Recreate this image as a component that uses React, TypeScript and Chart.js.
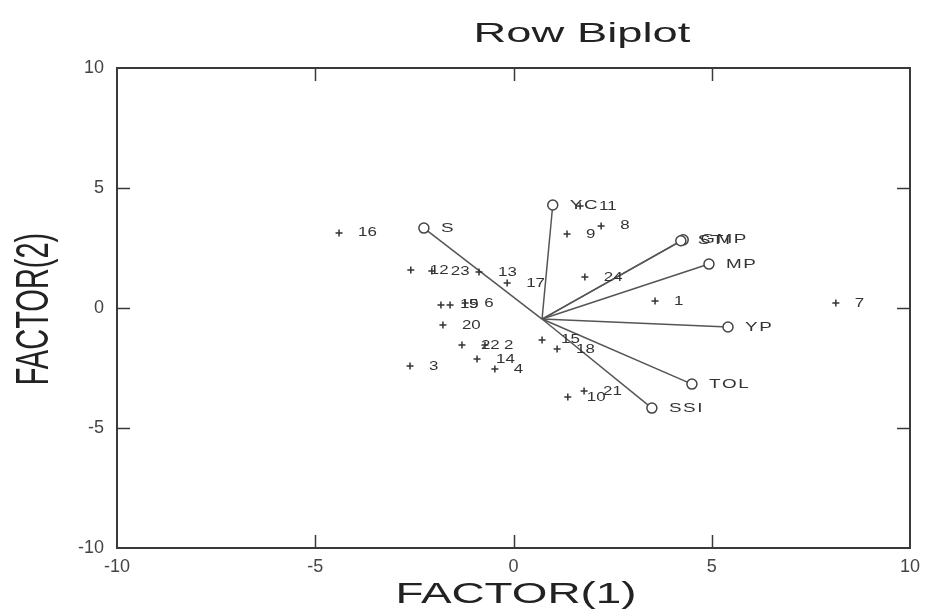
import React, { useEffect, useRef } from "react";
import { Chart, registerables } from "chart.js";

Chart.register(...registerables);

// ---- Data ----
const TICK_VALUES = [-10, -5, 0, 5, 10];
const INNER_TICKS = [-5, 0, 5];

const POINT_LABELS = ["1", "2", "3", "4", "5", "6", "7", "8", "9", "10", "11", "12", "13", "14", "15", "16", "17", "18", "19", "20", "21", "22", "23", "24"];
const POINT_X = [3.57, -0.72, -2.61, -0.47, -1.60, -1.22, 8.13, 2.21, 1.35, 1.37, 1.68, -2.59, -0.87, -0.92, 0.72, -4.40, -0.16, 1.10, -1.83, -1.78, 1.78, -1.30, -2.06, 1.80];
const POINT_Y = [0.29, -1.54, -2.42, -2.54, 0.13, 0.21, 0.21, 3.42, 3.08, -3.71, 4.25, 1.58, 1.50, -2.13, -1.33, 3.13, 1.04, -1.71, 0.13, -0.71, -3.46, -1.54, 1.54, 1.29];

const ORIGIN_X = 0.72;
const ORIGIN_Y = -0.46;
const VECTOR_LABELS = ["YC", "S", "STI", "GMP", "MP", "YP", "TOL", "SSI"];
const VECTOR_X = [0.99, -2.26, 4.22, 4.28, 4.93, 5.41, 4.50, 3.49];
const VECTOR_Y = [4.29, 3.33, 2.80, 2.84, 1.83, -0.79, -3.17, -4.17];

const TITLE = "Row Biplot";
const X_TITLE = "FACTOR(1)";
const Y_TITLE = "FACTOR(2)";

const FONT = "'Liberation Sans', Arial, sans-serif";

const decorPlugin = {
  id: "decor",
  beforeDatasetsDraw(chart: any) {
    const { ctx, chartArea: a, scales } = chart;
    const xs = scales.x;
    const ys = scales.y;
    ctx.save();
    ctx.strokeStyle = "#3a3a3a";
    ctx.lineWidth = 2;
    ctx.strokeRect(a.left, a.top, a.right - a.left, a.bottom - a.top);
    ctx.lineWidth = 1.5;
    const tl = 13;
    ctx.beginPath();
    for (const v of INNER_TICKS) {
      const px = Math.round(xs.getPixelForValue(v)) + 0.5;
      ctx.moveTo(px, a.top);
      ctx.lineTo(px, a.top + tl);
      ctx.moveTo(px, a.bottom);
      ctx.lineTo(px, a.bottom - tl);
      const py = Math.round(ys.getPixelForValue(v)) + 0.5;
      ctx.moveTo(a.left, py);
      ctx.lineTo(a.left + tl, py);
      ctx.moveTo(a.right, py);
      ctx.lineTo(a.right - tl, py);
    }
    ctx.stroke();
    ctx.restore();
  },
  afterDatasetsDraw(chart: any) {
    const { ctx, scales } = chart;
    const xs = scales.x;
    const ys = scales.y;
    ctx.save();
    ctx.fillStyle = "#333";
    ctx.textBaseline = "middle";
    ctx.textAlign = "left";
    // point labels
    ctx.font = `13px ${FONT}`;
    POINT_LABELS.forEach((lab, i) => {
      const px = xs.getPixelForValue(POINT_X[i]);
      const py = ys.getPixelForValue(POINT_Y[i]);
      ctx.save();
      ctx.translate(px + 19, py);
      ctx.scale(1.3, 1);
      ctx.fillText(lab, 0, 0);
      ctx.restore();
    });
    // vector labels
    ctx.font = `13px ${FONT}`;
    VECTOR_LABELS.forEach((lab, i) => {
      const px = xs.getPixelForValue(VECTOR_X[i]);
      const py = ys.getPixelForValue(VECTOR_Y[i]);
      ctx.save();
      ctx.translate(px + 17, py);
      ctx.scale(1.45, 1);
      ctx.fillText(lab.split("").join("\u200A"), 0, 0);
      ctx.restore();
    });
    ctx.restore();
  },
  afterDraw(chart: any) {
    const { ctx } = chart;
    ctx.save();
    ctx.fillStyle = "#222";
    ctx.textAlign = "center";
    ctx.textBaseline = "alphabetic";
    ctx.font = `28px ${FONT}`;
    ctx.save();
    ctx.translate(582, 42);
    ctx.scale(1.62, 1);
    ctx.fillText(TITLE, 0, 0);
    ctx.restore();

    ctx.font = `29px ${FONT}`;
    ctx.save();
    ctx.translate(516, 603);
    ctx.scale(1.58, 1);
    ctx.fillText(X_TITLE, 0, 0);
    ctx.restore();

    ctx.save();
    ctx.translate(48, 309);
    ctx.scale(1.6, 1);
    ctx.rotate(-Math.PI / 2);
    ctx.fillText(Y_TITLE, 0, 0);
    ctx.restore();
    ctx.restore();
  },
};

export default function App() {
  const ref = useRef<HTMLCanvasElement | null>(null);
  useEffect(() => {
    if (!ref.current) return;
    const vectorSets = VECTOR_LABELS.map((lab, i) => ({
      label: lab,
      data: [
        { x: ORIGIN_X, y: ORIGIN_Y },
        { x: VECTOR_X[i], y: VECTOR_Y[i] },
      ],
      showLine: true,
      borderColor: "#555",
      borderWidth: 1.5,
      pointRadius: [0, 5],
      pointStyle: "circle",
      pointBackgroundColor: "#ffffff",
      pointBorderColor: "#444",
      pointBorderWidth: 1.5,
    }));
    const chart = new Chart(ref.current, {
      type: "scatter",
      data: {
        datasets: [
          {
            label: "rows",
            data: POINT_X.map((x, i) => ({ x, y: POINT_Y[i] })),
            pointStyle: "cross",
            pointRadius: 3.5,
            borderColor: "#333",
            borderWidth: 1.5,
          } as any,
          ...vectorSets,
        ],
      },
      options: {
        responsive: false,
        animation: false,
        events: [],
        layout: { padding: { top: 68, right: 24, left: 0, bottom: 0 } },
        plugins: { legend: { display: false }, tooltip: { enabled: false }, title: { display: false } },
        scales: {
          x: {
            type: "linear",
            min: -10,
            max: 10,
            afterBuildTicks: (s: any) => {
              s.ticks = TICK_VALUES.map((v) => ({ value: v }));
            },
            afterFit: (s: any) => {
              s.height = 61;
            },
            grid: { display: false, drawTicks: false },
            border: { display: false },
            ticks: { padding: 8, color: "#444", font: { family: FONT, size: 18 }, maxRotation: 0 },
          },
          y: {
            type: "linear",
            min: -10,
            max: 10,
            afterBuildTicks: (s: any) => {
              s.ticks = TICK_VALUES.map((v) => ({ value: v }));
            },
            afterFit: (s: any) => {
              s.width = 117;
            },
            grid: { display: false, drawTicks: false },
            border: { display: false },
            ticks: { padding: 13, color: "#444", font: { family: FONT, size: 18 } },
          },
        },
      } as any,
      plugins: [decorPlugin],
    });
    return () => chart.destroy();
  }, []);
  return (
    <div style={{ position: "fixed", left: 0, top: 0, width: 934, height: 609, background: "#fff" }}>
      <canvas ref={ref} width={934} height={609} style={{ width: 934, height: 609 }} />
    </div>
  );
}
